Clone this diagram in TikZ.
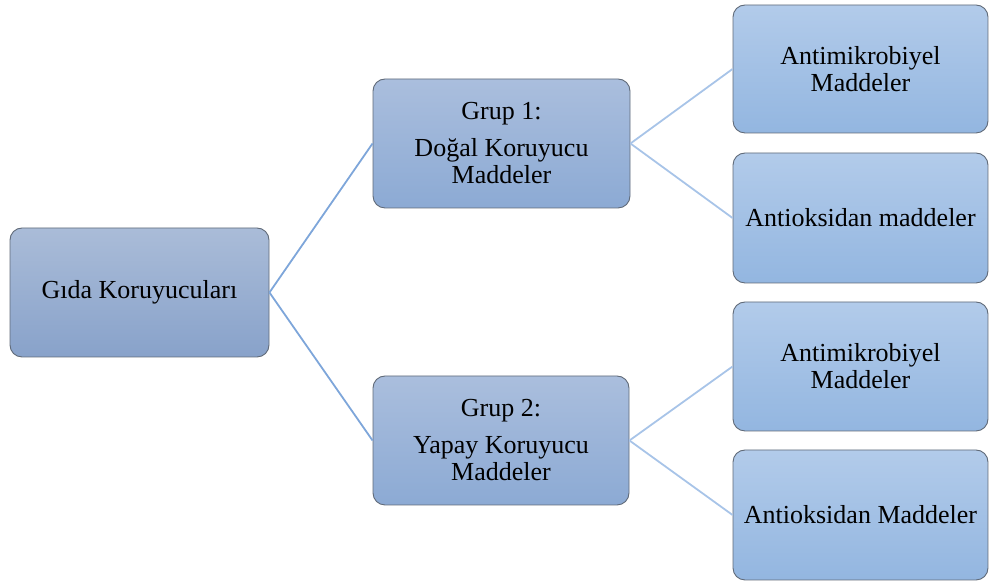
\documentclass[tikz,border=0pt]{standalone}
\usepackage{fontspec}
\setmainfont{LiberationSerif}[Extension=.ttf, UprightFont=*-Regular, BoldFont=*-Bold, ItalicFont=*-Italic, BoldItalicFont=*-BoldItalic]
\usetikzlibrary{positioning}
\definecolor{edgeA}{HTML}{7EA6DA}
\definecolor{edgeB}{HTML}{A8C4E8}
\definecolor{bordc}{HTML}{606A78}
\definecolor{topA}{HTML}{AABCD8}
\definecolor{botA}{HTML}{88A2CA}
\definecolor{topB}{HTML}{AABEDD}
\definecolor{botB}{HTML}{8CAAD4}
\definecolor{topC}{HTML}{B2CBEA}
\definecolor{botC}{HTML}{93B6E0}
\tikzset{
  box/.style={rectangle, rounded corners=12pt, draw=bordc, line width=0.9pt,
    inner sep=2pt, align=center, font=\rmfamily\fontsize{26}{27}\selectfont},
  lvlA/.style={box, top color=topA, bottom color=botA},
  lvlB/.style={box, top color=topB, bottom color=botB},
  lvlC/.style={box, top color=topC, bottom color=botC},
  linkA/.style={draw=edgeA, line width=1.8pt},
  linkB/.style={draw=edgeB, line width=1.8pt}
}
\begin{document}
\begin{tikzpicture}[x=1pt,y=1pt]
\useasboundingbox (0,0) rectangle (989,583);
\node[lvlA, minimum width=259pt, minimum height=129pt] (A) at (139.5,290.5) {Gıda Koruyucuları};
\node[lvlB, minimum width=257pt, minimum height=129pt] (B1) at (501.5,439.5) {Grup 1:\\[10pt]Doğal Koruyucu\\Maddeler};
\node[lvlB, minimum width=256pt, minimum height=129pt] (B2) at (501,142.5) {Grup 2:\\[10pt]Yapay Koruyucu\\Maddeler};
\node[lvlC, minimum width=255pt, minimum height=128pt] (C1) at (860.5,514) {Antimikrobiyel\\Maddeler};
\node[lvlC, minimum width=255pt, minimum height=130pt] (C2) at (860.5,365) {Antioksidan maddeler};
\node[lvlC, minimum width=255pt, minimum height=129pt] (C3) at (860.5,216.5) {Antimikrobiyel\\Maddeler};
\node[lvlC, minimum width=255pt, minimum height=130pt] (C4) at (860.5,68) {Antioksidan Maddeler};
\draw[linkA] (A.east) -- (B1.west);
\draw[linkA] (A.east) -- (B2.west);
\draw[linkB] (B1.east) -- (C1.west);
\draw[linkB] (B1.east) -- (C2.west);
\draw[linkB] (B2.east) -- (C3.west);
\draw[linkB] (B2.east) -- (C4.west);
\end{tikzpicture}
\end{document}
